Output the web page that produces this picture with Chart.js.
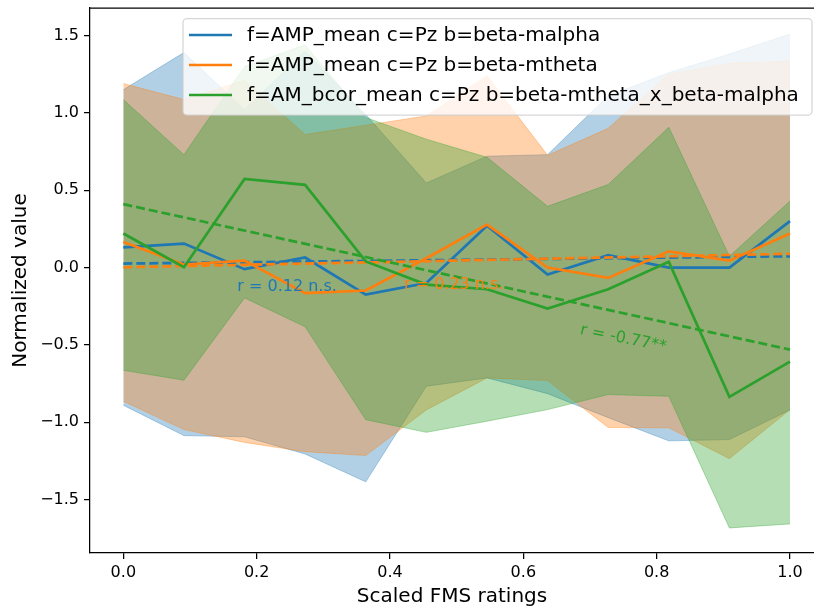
<!DOCTYPE html>
<html>
<head>
<meta charset="utf-8">
<script src="https://cdn.jsdelivr.net/npm/chart.js@4.4.0/dist/chart.umd.min.js"></script>
<style>
  html, body { margin: 0; padding: 0; background: #fff; overflow: hidden; }
  #wrap { width: 814px; height: 607px; }
</style>
</head>
<body>
<div id="wrap"><canvas id="chart" width="814" height="607"></canvas></div>
<script>
// Scaled FMS ratings (x)
var ratings = [0.0, 0.0909, 0.1818, 0.2727, 0.3636, 0.4545, 0.5455, 0.6364, 0.7273, 0.8182, 0.9091, 1.0];

// f=AMP_mean c=Pz b=beta-malpha
var blueMean  = [0.13, 0.155, -0.01, 0.065, -0.175, -0.10, 0.27, -0.045, 0.08, 0.00, 0.00, 0.30];
var blueUpper = [1.15, 1.39, 1.02, 1.40, 0.99, 0.547, 0.72, 0.73, 1.11, 1.26, 1.38, 1.51];
var blueLower = [-0.89, -1.086, -1.094, -1.205, -1.385, -0.767, -0.713, -0.815, -0.97, -1.12, -1.112, -0.92];

// f=AMP_mean c=Pz b=beta-mtheta
var orangeMean  = [0.165, 0.02, 0.045, -0.165, -0.148, 0.06, 0.278, 0.00, -0.067, 0.105, 0.045, 0.22];
var orangeUpper = [1.19, 1.086, 1.21, 0.86, 0.92, 0.98, 1.24, 0.726, 0.90, 1.25, 1.32, 1.334];
var orangeLower = [-0.864, -1.047, -1.13, -1.19, -1.215, -0.92, -0.713, -0.73, -1.034, -1.036, -1.235, -0.918];

// f=AM_bcor_mean c=Pz b=beta-mtheta_x_beta-malpha
var greenMean  = [0.22, 0.002, 0.573, 0.535, 0.04, -0.11, -0.14, -0.265, -0.14, 0.037, -0.836, -0.608];
var greenUpper = [1.086, 0.73, 1.30, 1.44, 0.97, 0.83, 0.713, 0.396, 0.537, 0.907, 0.073, 0.43];
var greenLower = [-0.664, -0.728, -0.196, -0.383, -0.983, -1.065, -0.993, -0.918, -0.821, -0.832, -1.683, -1.657];

// regression lines (x from 0 to 1)
var fitX = [0.0, 1.0];
var blueFit = [0.026, 0.073];
var orangeFit = [0.002, 0.089];
var greenFit = [0.41, -0.53];

var legendLabels = [
  'f=AMP_mean c=Pz b=beta-malpha',
  'f=AMP_mean c=Pz b=beta-mtheta',
  'f=AM_bcor_mean c=Pz b=beta-mtheta_x_beta-malpha'
];
var corrLabels = ['r = 0.12 n.s.', 'r = 0.23 n.s.', 'r = -0.77**'];

var BLUE = '#1f77b4', ORANGE = '#ff7f0e', GREEN = '#2ca02c';
var BLUE_A = 'rgba(31,119,180,0.35)', ORANGE_A = 'rgba(255,127,14,0.35)', GREEN_A = 'rgba(44,160,44,0.35)';

function pts(xs, ys) {
  return xs.map(function (x, i) { return { x: x, y: ys[i] }; });
}

function band(ys, color, fill, order) {
  return {
    data: pts(ratings, ys), borderColor: color, backgroundColor: color,
    borderWidth: 1, pointRadius: 0, fill: fill, order: order
  };
}

function line(xs, ys, color, dashed, order) {
  return {
    data: pts(xs, ys), borderColor: color, borderWidth: 2.7,
    borderDash: dashed ? [9, 4] : [], pointRadius: 0, fill: false, order: order
  };
}

// top spine, correlation labels and legend
var extras = {
  id: 'extras',
  afterDatasetsDraw: function (chart) {
    var ctx = chart.ctx, xs = chart.scales.x, ys = chart.scales.y;
    var spots = [
      { x: 0.171, y: -0.123, rot: 0, color: BLUE, align: 'left' },
      { x: 0.421, y: -0.11, rot: 0, color: ORANGE, align: 'left' },
      { x: 0.75, y: -0.46, rot: 0.2, color: GREEN, align: 'center' }
    ];
    ctx.save();
    ctx.font = '16px "DejaVu Sans"';
    ctx.textBaseline = 'middle';
    spots.forEach(function (s, i) {
      ctx.save();
      ctx.translate(xs.getPixelForValue(s.x), ys.getPixelForValue(s.y));
      ctx.rotate(s.rot);
      ctx.fillStyle = s.color;
      ctx.textAlign = s.align;
      ctx.fillText(corrLabels[i], 0, 0);
      ctx.restore();
    });
    ctx.restore();
  },
  afterDraw: function (chart) {
    var ctx = chart.ctx, a = chart.chartArea;
    ctx.save();
    ctx.strokeStyle = '#000';
    ctx.lineWidth = 1.25;
    ctx.beginPath();
    ctx.moveTo(a.left, a.top);
    ctx.lineTo(chart.width, a.top);
    ctx.stroke();

    var bx = 183, by = 18.5, bw = 629, bh = 96.5, r = 4;
    ctx.beginPath();
    ctx.moveTo(bx + r, by);
    ctx.arcTo(bx + bw, by, bx + bw, by + bh, r);
    ctx.arcTo(bx + bw, by + bh, bx, by + bh, r);
    ctx.arcTo(bx, by + bh, bx, by, r);
    ctx.arcTo(bx, by, bx + bw, by, r);
    ctx.closePath();
    ctx.fillStyle = 'rgba(255,255,255,0.8)';
    ctx.fill();
    ctx.strokeStyle = 'rgba(204,204,204,0.8)';
    ctx.lineWidth = 1.25;
    ctx.stroke();
    var cols = [BLUE, ORANGE, GREEN];
    ctx.font = '20px "DejaVu Sans"';
    ctx.textBaseline = 'middle';
    ctx.textAlign = 'left';
    for (var i = 0; i < 3; i++) {
      var ry = 35 + i * 30;
      ctx.strokeStyle = cols[i];
      ctx.lineWidth = 2.7;
      ctx.beginPath();
      ctx.moveTo(189, ry);
      ctx.lineTo(232, ry);
      ctx.stroke();
      ctx.fillStyle = '#000';
      ctx.fillText(legendLabels[i], 247, ry + 1);
    }
    ctx.restore();
  }
};

function fmt(v) {
  var s = Math.abs(v).toFixed(1);
  return (v < -1e-9 ? '\u2212' : '') + s;
}

function noPad(s) {
  s.paddingTop = 0; s.paddingBottom = 0; s.paddingLeft = 0; s.paddingRight = 0;
}

Chart.defaults.font.family = '"DejaVu Sans"';
Chart.defaults.color = '#000';

new Chart(document.getElementById('chart').getContext('2d'), {
  type: 'line',
  data: {
    datasets: [
      band(greenUpper, GREEN_A, '+1', 10),
      band(greenLower, GREEN_A, false, 11),
      band(orangeUpper, ORANGE_A, '+1', 12),
      band(orangeLower, ORANGE_A, false, 13),
      band(blueUpper, BLUE_A, '+1', 14),
      band(blueLower, BLUE_A, false, 15),
      line(ratings, blueMean, BLUE, false, 5),
      line(fitX, blueFit, BLUE, true, 4),
      line(ratings, orangeMean, ORANGE, false, 3),
      line(fitX, orangeFit, ORANGE, true, 2),
      line(ratings, greenMean, GREEN, false, 1),
      line(fitX, greenFit, GREEN, true, 0)
    ]
  },
  options: {
    responsive: false,
    animation: false,
    layout: { padding: { top: 8, right: 0, left: 0, bottom: 0 } },
    plugins: { legend: { display: false }, tooltip: { enabled: false } },
    elements: { line: { tension: 0 } },
    scales: {
      x: {
        // right spine sits just outside the picture, as in the original
        type: 'linear', min: -0.05, max: 1.036,
        afterFit: function (s) { s.height = 54; noPad(s); },
        border: { display: true, color: '#000', width: 1.25 },
        grid: { display: true, drawOnChartArea: false, drawTicks: true, tickLength: 6, color: '#000', lineWidth: 1.25 },
        ticks: { stepSize: 0.2, includeBounds: false, padding: 4, font: { size: 16 }, maxRotation: 0, callback: fmt },
        title: { display: true, text: 'Scaled FMS ratings', font: { size: 20, lineHeight: 1 }, padding: { top: 0, bottom: 0 } }
      },
      y: {
        type: 'linear', min: -1.845, max: 1.678,
        afterFit: function (s) { s.width = 90; noPad(s); },
        border: { display: true, color: '#000', width: 1.25 },
        grid: { display: true, drawOnChartArea: false, drawTicks: true, tickLength: 6, color: '#000', lineWidth: 1.25 },
        ticks: { stepSize: 0.5, includeBounds: false, padding: 5, font: { size: 16 }, callback: fmt },
        title: { display: true, text: 'Normalized value', font: { size: 20, lineHeight: 1 }, padding: { top: 11, bottom: 0 } }
      }
    }
  },
  plugins: [extras]
});
</script>
</body>
</html>
